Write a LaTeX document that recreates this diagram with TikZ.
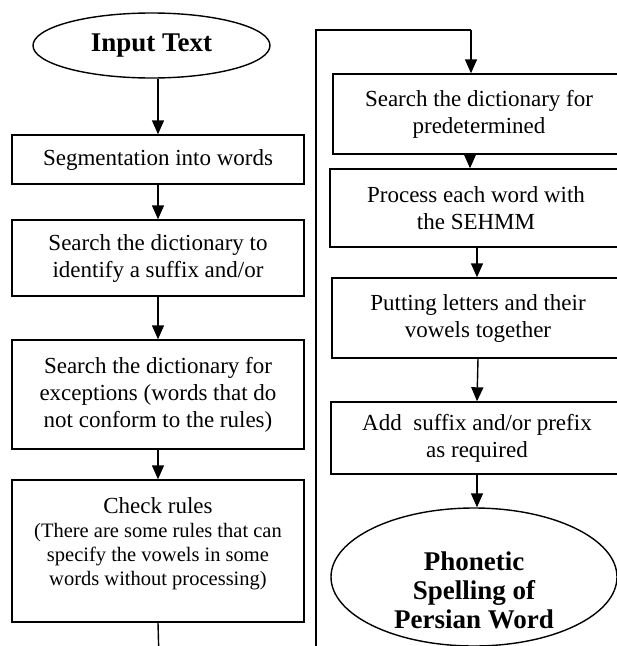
\documentclass[tikz,border=0pt]{standalone}
\usepackage{fontspec}
\setmainfont{Liberation Serif}
\usetikzlibrary{shapes.geometric,arrows.meta}
\newcommand{\smallrule}{\fontsize{20.5}{22.5}\selectfont}
\begin{document}
\begin{tikzpicture}[x=1pt,y=-1pt,
  box/.style={draw, line width=1.4pt, rectangle, minimum width=292pt, align=center,
    font=\fontsize{23}{27}\selectfont, inner sep=0pt},
  term/.style={draw, line width=1.4pt, ellipse, inner sep=0pt},
  bigbold/.style={align=center, font=\fontsize{27}{29}\selectfont\bfseries, inner sep=0pt},
  arr/.style={line width=1.4pt, -{Triangle[length=14pt,width=12pt]}},
  conn/.style={line width=1.4pt}]
\useasboundingbox (0,0) rectangle (617,646);
\clip (0,0) rectangle (617,646);

% left column
\node[term, minimum width=237pt, minimum height=65pt] (in) at (151.5,45.5) {};
\node[bigbold] (intxt) at (151.5,46) {Input Text};
\node[box, minimum height=49pt] (b1) at (158,159.5) {Segmentation into words};
\node[box, minimum height=76pt] (b2) at (158,258) {Search the dictionary to\\identify a suffix and/or};
\node[box, minimum height=109pt] (b3) at (158,394.5) {Search the dictionary for\\exceptions (words that do\\not conform to the rules)};
\node[box, minimum height=142pt] (b4) at (158,551) {};
\node[align=center, inner sep=0pt, font=\fontsize{23}{25}\selectfont] (b4t) at (158,544)
  {Check rules\\[-1pt]\smallrule (There are some rules that can\\[-1pt]\smallrule specify the vowels in some\\[-1pt]\smallrule words without processing)};

% right column
\node[box, minimum height=80pt] (r1) at (479,114) {Search the dictionary for\\predetermined};
\node[box, minimum height=78pt] (r2) at (476,208) {Process each word with\\the SEHMM};
\node[box, minimum height=80pt] (r3) at (478,318) {Putting letters and their\\vowels together};
\node[box, minimum height=72pt] (r4) at (477,438) {Add\ \ suffix and/or prefix\\as required};
\node[term, minimum width=286pt, minimum height=138pt] (out) at (474,577) {};
\node[bigbold] (outtxt) at (474,590) {Phonetic\\Spelling of\\Persian Word};

% connectors
\coordinate (lbot) at (159,660);
\coordinate (rbot) at (316,660);
\coordinate (ctop) at (316,30);
\draw[arr] (b1.north |- in.south) -- (b1.north);
\draw[arr] (b1.south) -- (b2.north);
\draw[arr] (b2.south) -- (b3.north);
\draw[arr] (b3.south) -- (b4.north);
\draw[conn] (b4.south) -- (lbot);
\draw[conn] (rbot) -- (ctop);
\draw[conn] ([xshift=-1.5pt]ctop) -- ([xshift=-8pt]ctop -| r1.north);
\draw[arr] ([xshift=-8pt]ctop -| r1.north) -- ([xshift=-8pt]r1.north);
\draw[arr] ([xshift=-9pt]r1.south) -- ([xshift=-6pt]r2.north);
\draw[arr] ([xshift=1pt]r2.south) -- ([xshift=-1pt]r3.north);
\draw[arr] (r3.south) -- (r4.north);
\draw[arr] (r4.south) -- (r4.south |- out.north);
\end{tikzpicture}
\end{document}
